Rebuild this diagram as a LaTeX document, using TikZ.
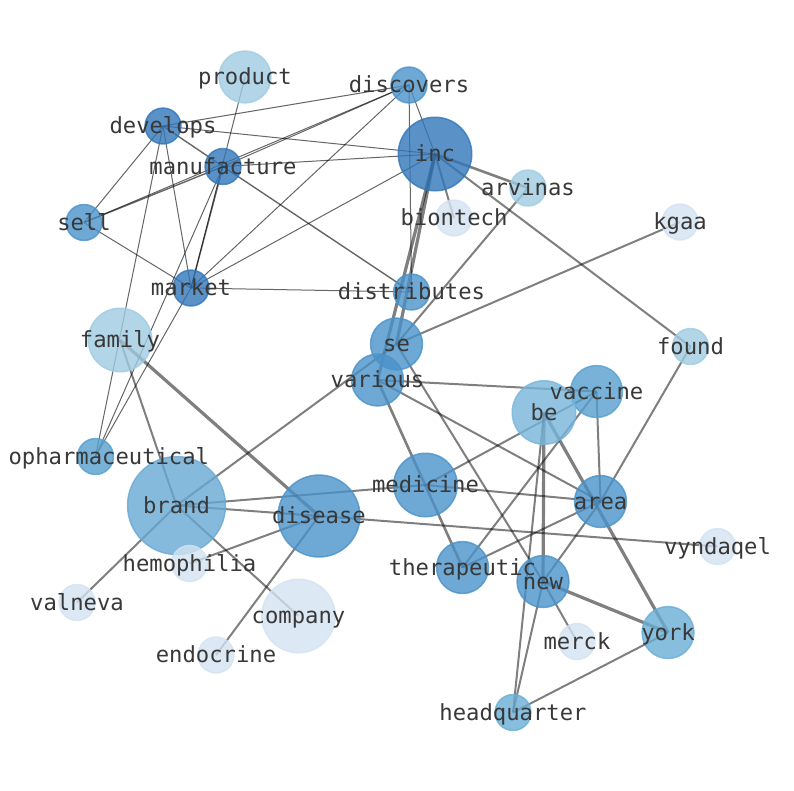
\documentclass[tikz,border=0pt]{standalone}
\usepackage{fontspec}
\setmonofont{DejaVu Sans Mono}
\definecolor{c1}{RGB}{49,118,184}
\definecolor{c2}{RGB}{74,146,201}
\definecolor{cv}{RGB}{86,159,206}
\definecolor{cbr}{RGB}{103,169,211}
\definecolor{cb}{RGB}{119,181,219}
\definecolor{cy}{RGB}{105,174,214}
\definecolor{c4}{RGB}{159,203,225}
\definecolor{c5}{RGB}{211,226,241}
\tikzset{
  vx/.style 2 args={circle, inner sep=0pt, minimum size=#1pt, fill=#2, draw=#2,
    fill opacity=0.8, draw opacity=0.8, line width=1.5pt},
  lbl/.style={font=\ttfamily\fontsize{22.2}{26}\selectfont, text=black!78,
    inner sep=0pt, text height=18pt, text depth=2.6pt, anchor=center},
  et/.style={draw=black, draw opacity=0.6, line width=1pt},
  em/.style={draw=black, draw opacity=0.6, line width=1.4pt},
  etwo/.style={draw=black, draw opacity=0.5, line width=2pt},
  ethick/.style={draw=black, draw opacity=0.5, line width=2.6pt},
  ethree/.style={draw=black, draw opacity=0.5, line width=3.2pt}
}
\begin{document}
\begin{tikzpicture}[x=1pt,y=-1pt]
\clip (0,0) rectangle (794,790);
% centres
\coordinate (product) at (245,77);
\coordinate (discovers) at (409,85);
\coordinate (develops) at (163,126);
\coordinate (manufacture) at (223,166.5);
\coordinate (inc) at (435,154);
\coordinate (arvinas) at (528,188);
\coordinate (biontech) at (454,218);
\coordinate (kgaa) at (680,222);
\coordinate (sell) at (84,222.5);
\coordinate (market) at (191,288);
\coordinate (distributes) at (411.5,292);
\coordinate (se) at (396.5,344);
\coordinate (found) at (690.5,346.5);
\coordinate (family) at (120,340);
\coordinate (various) at (377.5,380);
\coordinate (vaccine) at (596.5,391.5);
\coordinate (be) at (544,412.5);
\coordinate (biopharm) at (95.5,456.5);
\coordinate (medicine) at (425.5,485);
\coordinate (brand) at (176.5,505.5);
\coordinate (disease) at (319,516);
\coordinate (area) at (600.5,501.5);
\coordinate (vyndaqel) at (717.5,546.5);
\coordinate (hemophilia) at (189.5,563.5);
\coordinate (therapeutic) at (462.5,567.5);
\coordinate (new) at (543,581.5);
\coordinate (valneva) at (77,602.5);
\coordinate (company) at (298.5,616);
\coordinate (merck) at (577,641.5);
\coordinate (york) at (668,632.5);
\coordinate (endocrine) at (216,655);
\coordinate (headquarter) at (513,712.5);
% edges
\draw[et] (develops) -- (discovers);
\draw[et] (develops) -- (inc);
\draw[et] (develops) -- (sell);
\draw[et] (develops) -- (market);
\draw[et] (develops) -- (biopharm);
\draw[et] (manufacture) -- (inc);
\draw[et] (manufacture) -- (discovers);
\draw[et] (sell) -- (discovers);
\draw[et] (market) -- (discovers);
\draw[et] (market) -- (inc);
\draw[et] (market) -- (distributes);
\draw[et] (sell) -- (market);
\draw[et] (biopharm) -- (manufacture);
\draw[et] (biopharm) -- (market);
\draw[et] (discovers) -- (distributes);
\draw[et] (discovers) -- (inc);
\draw[et] (product) -- (market);
\draw[em] (develops) -- (manufacture);
\draw[em] (manufacture) -- (distributes);
\draw[em] (sell) -- (manufacture);
\draw[em] (manufacture) -- (market);
\draw[etwo] (inc) -- (found);
\draw[etwo] (inc) -- (biontech);
\draw[etwo] (se) -- (kgaa);
\draw[etwo] (se) -- (arvinas);
\draw[etwo] (se) -- (new);
\draw[etwo] (various) -- (vaccine);
\draw[etwo] (various) -- (area);
\draw[etwo] (brand) -- (se);
\draw[etwo] (brand) -- (medicine);
\draw[etwo] (brand) -- (disease);
\draw[etwo] (brand) -- (valneva);
\draw[etwo] (brand) -- (company);
\draw[etwo] (family) -- (brand);
\draw[etwo] (hemophilia) -- (disease);
\draw[etwo] (disease) -- (endocrine);
\draw[etwo] (disease) -- (vyndaqel);
\draw[etwo] (medicine) -- (area);
\draw[etwo] (medicine) -- (vaccine);
\draw[etwo] (vaccine) -- (therapeutic);
\draw[etwo] (vaccine) -- (area);
\draw[etwo] (area) -- (therapeutic);
\draw[etwo] (area) -- (new);
\draw[etwo] (area) -- (found);
\draw[etwo] (be) -- (headquarter);
\draw[etwo] (new) -- (merck);
\draw[etwo] (new) -- (headquarter);
\draw[etwo] (york) -- (headquarter);
\draw[ethick] (inc) -- (arvinas);
\draw[ethick] (various) -- (therapeutic);
\draw[ethree] (inc) -- (se);
\draw[ethree] (inc) -- (various);
\draw[ethree] (family) -- (disease);
\draw[ethree] (be) -- (new);
\draw[ethree] (be) -- (york);
\draw[ethree] (new) -- (york);
% circles
\node[vx={51.9}{c4}] (product-c) at (product) {};
\node[vx={35.9}{c2}] (discovers-c) at (discovers) {};
\node[vx={35.9}{c1}] (develops-c) at (develops) {};
\node[vx={35.9}{c1}] (manufacture-c) at (manufacture) {};
\node[vx={73.5}{c1}] (inc-c) at (inc) {};
\node[vx={35.9}{c4}] (arvinas-c) at (arvinas) {};
\node[vx={35.9}{c5}] (biontech-c) at (biontech) {};
\node[vx={35.9}{c5}] (kgaa-c) at (kgaa) {};
\node[vx={35.9}{c2}] (sell-c) at (sell) {};
\node[vx={35.9}{c1}] (market-c) at (market) {};
\node[vx={35.9}{c2}] (distributes-c) at (distributes) {};
\node[vx={51.9}{c2}] (se-c) at (se) {};
\node[vx={35.9}{c4}] (found-c) at (found) {};
\node[vx={63.5}{c4}] (family-c) at (family) {};
\node[vx={51.9}{c2}] (various-c) at (various) {};
\node[vx={51.9}{cv}] (vaccine-c) at (vaccine) {};
\node[vx={63.5}{cb}] (be-c) at (be) {};
\node[vx={35.9}{cv}] (biopharm-c) at (biopharm) {};
\node[vx={63.5}{c2}] (medicine-c) at (medicine) {};
\node[vx={97.9}{cbr}] (brand-c) at (brand) {};
\node[vx={81.9}{c2}] (disease-c) at (disease) {};
\node[vx={51.9}{c2}] (area-c) at (area) {};
\node[vx={35.9}{c5}] (vyndaqel-c) at (vyndaqel) {};
\node[vx={35.9}{c5}] (hemophilia-c) at (hemophilia) {};
\node[vx={51.9}{c2}] (therapeutic-c) at (therapeutic) {};
\node[vx={51.9}{c2}] (new-c) at (new) {};
\node[vx={35.9}{c5}] (valneva-c) at (valneva) {};
\node[vx={73.5}{c5}] (company-c) at (company) {};
\node[vx={35.9}{c5}] (merck-c) at (merck) {};
\node[vx={51.9}{cy}] (york-c) at (york) {};
\node[vx={35.9}{c5}] (endocrine-c) at (endocrine) {};
\node[vx={35.9}{cy}] (headquarter-c) at (headquarter) {};
% labels
\node[lbl] (product-l) at (product) {product};
\node[lbl] (discovers-l) at (discovers) {discovers};
\node[lbl] (develops-l) at (develops) {develops};
\node[lbl] (manufacture-l) at (manufacture) {manufacture};
\node[lbl] (inc-l) at (inc) {inc};
\node[lbl] (arvinas-l) at (arvinas) {arvinas};
\node[lbl] (biontech-l) at (biontech) {biontech};
\node[lbl] (kgaa-l) at (kgaa) {kgaa};
\node[lbl] (sell-l) at (sell) {sell};
\node[lbl] (market-l) at (market) {market};
\node[lbl] (distributes-l) at (distributes) {distributes};
\node[lbl] (se-l) at (se) {se};
\node[lbl] (found-l) at (found) {found};
\node[lbl] (family-l) at (family) {family};
\node[lbl] (various-l) at (various) {various};
\node[lbl] (vaccine-l) at (vaccine) {vaccine};
\node[lbl] (be-l) at (be) {be};
\begin{scope}
\clip (8.6,0) rectangle (794,790);
\node[lbl] (biopharm-l) at (biopharm) {biopharmaceutical};
\end{scope}
\node[lbl] (medicine-l) at (medicine) {medicine};
\node[lbl] (brand-l) at (brand) {brand};
\node[lbl] (disease-l) at (disease) {disease};
\node[lbl] (area-l) at (area) {area};
\node[lbl] (vyndaqel-l) at (vyndaqel) {vyndaqel};
\node[lbl] (hemophilia-l) at (hemophilia) {hemophilia};
\node[lbl] (therapeutic-l) at (therapeutic) {therapeutic};
\node[lbl] (new-l) at (new) {new};
\node[lbl] (valneva-l) at (valneva) {valneva};
\node[lbl] (company-l) at (company) {company};
\node[lbl] (merck-l) at (merck) {merck};
\node[lbl] (york-l) at (york) {york};
\node[lbl] (endocrine-l) at (endocrine) {endocrine};
\node[lbl] (headquarter-l) at (headquarter) {headquarter};
\end{tikzpicture}
\end{document}
